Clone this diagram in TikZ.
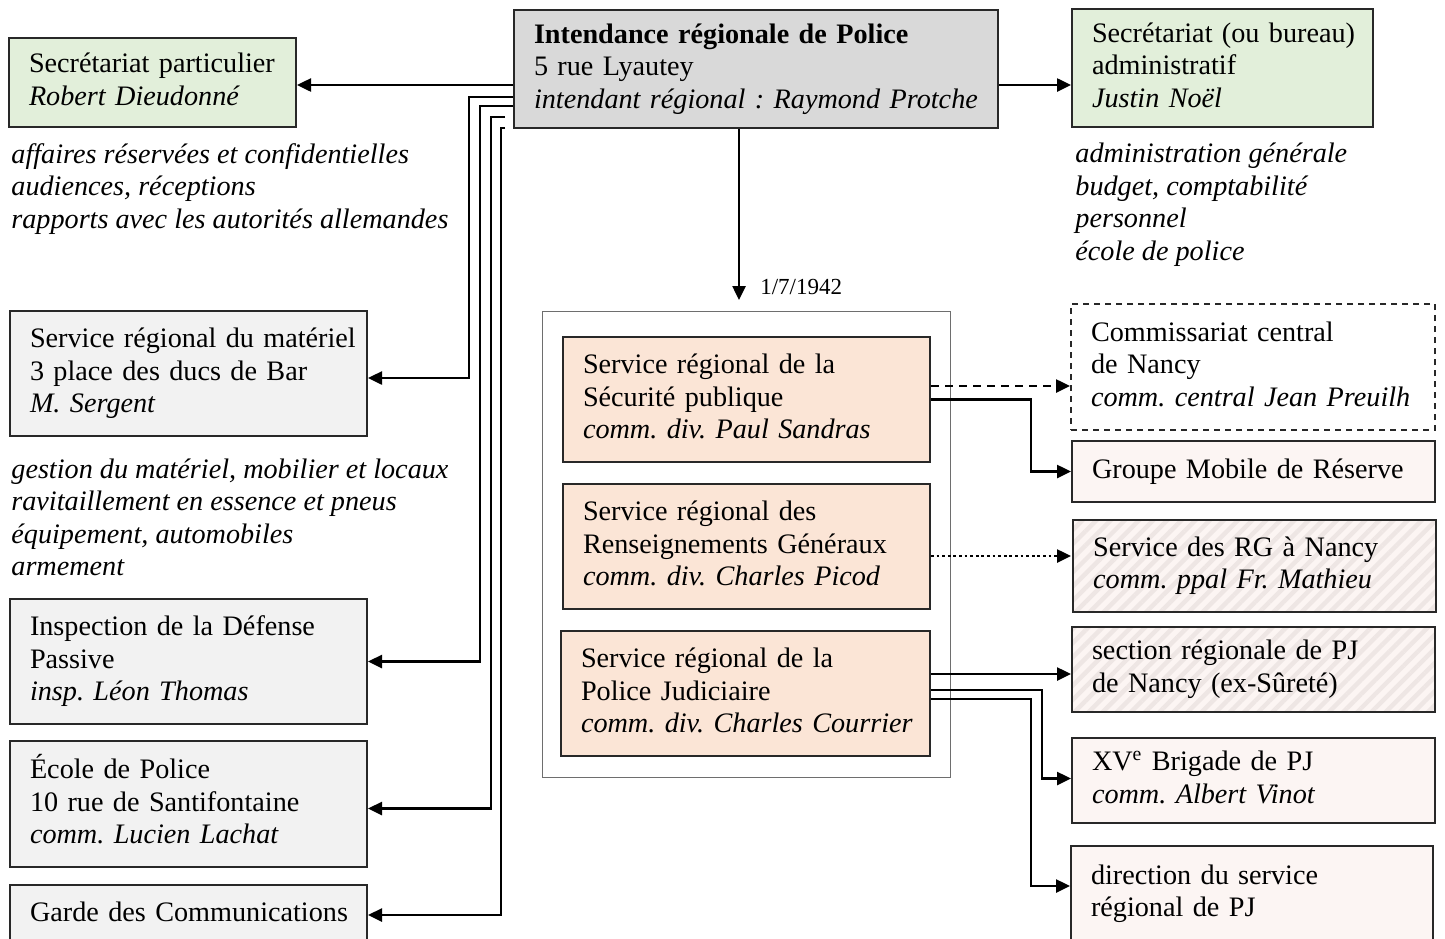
\documentclass[tikz,border=0pt]{standalone}
\usepackage{fontspec}
\setmainfont{Liberation Serif}
\usepackage{xcolor}
\usepackage{tikz}
\usetikzlibrary{arrows.meta, positioning, patterns.meta}
\definecolor{IntGray}{RGB}{217, 217, 217}
\definecolor{SecGreen}{RGB}{226, 239, 218}
\definecolor{MatGray}{RGB}{242, 242, 242}
\definecolor{SrPeach}{RGB}{251, 229, 214}
\definecolor{SubPink}{RGB}{252, 245, 243}
\definecolor{HatchLine}{RGB}{238, 230, 228}
\definecolor{BoxEdge}{RGB}{40, 40, 40}
\definecolor{FrameGray}{RGB}{110, 110, 110}
\newcommand\boxlines[1]{\begin{tabular}{@{}l@{}}#1\end{tabular}}
\tikzset{
  box/.style={rectangle, draw=BoxEdge, line width=1pt, inner xsep=10pt,
    inner ysep=0pt, align=left, anchor=north west,
    font=\fontsize{14.1}{16.25}\selectfont\frenchspacing},
  intbox/.style={box, fill=IntGray, text width=222pt, minimum height=59pt},
  secbox/.style={box, fill=SecGreen},
  matbox/.style={box, fill=MatGray, text width=158.5pt},
  srbox/.style={box, fill=SrPeach, text width=163.5pt, minimum height=62.5pt},
  subbox/.style={box, fill=SubPink, text width=161.5pt},
  hatchbox/.style={box, preaction={fill=SubPink},
    pattern={Lines[angle=45, distance=5pt, line width=2.2pt]},
    pattern color=HatchLine, text width=161.5pt},
  dashbox/.style={box, fill=white, dashed, dash pattern=on 3pt off 2.5pt,
    text width=162pt},
  frame/.style={rectangle, draw=FrameGray, line width=0.6pt, anchor=north west,
    minimum width=204pt, minimum height=233pt},
  note/.style={align=left, inner sep=0pt, anchor=west,
    font=\fontsize{14.1}{16.25}\selectfont\itshape\frenchspacing},
  arr/.style={-{Triangle[length=7pt, width=6.5pt]}, line width=1.25pt},
  darr/.style={arr, dash pattern=on 4pt off 3pt},
  dotarr/.style={arr, dash pattern=on 1.4pt off 1.4pt},
}

\begin{document}
\begin{tikzpicture}[x=0.5pt, y=-0.5pt]
  \path[use as bounding box] (0,0) rectangle (1445,938);
  \clip (0,0) rectangle (1445,938);

  % top row
  \node[intbox] (intend) at (513,9)
    {\boxlines{\textbf{Intendance régionale de Police}\\5 rue Lyautey\\
     \textit{intendant régional : Raymond Protche}}};
  \node[secbox, text width=123.5pt, minimum height=44.5pt] (secpart) at (8,37)
    {\boxlines{Secrétariat particulier\\\textit{Robert Dieudonné}}};
  \node[secbox, text width=130.5pt, minimum height=59pt] (secadm) at (1071,8)
    {\boxlines{Secrétariat (ou bureau)\\administratif\\\textit{Justin Noël}}};

  \node[note] (notepart) at (11,189)
    {affaires réservées et confidentielles\\audiences, réceptions\\
     rapports avec les autorités allemandes};
  \node[note] (noteadm) at (1075,204.5)
    {administration générale\\budget, comptabilité\\personnel\\école de police};

  % left column
  \node[matbox, minimum height=62.5pt] (mat) at (9,310)
    {\boxlines{Service régional du matériel\\3 place des ducs de Bar\\\textit{M. Sergent}}};
  \node[note] (notemat) at (11,517.5)
    {gestion du matériel, mobilier et locaux\\ravitaillement en essence et pneus\\
     équipement, automobiles\\armement};
  \node[matbox, minimum height=62.5pt] (insp) at (9,598)
    {\boxlines{Inspection de la Défense\\Passive\\\textit{insp. Léon Thomas}}};
  \node[matbox, minimum height=63pt] (ecole) at (9,740)
    {\boxlines{École de Police\\10 rue de Santifontaine\\\textit{comm. Lucien Lachat}}};
  \node[matbox, minimum height=30pt] (garde) at (9,884)
    {\boxlines{Garde des Communications}};

  % regional services
  \node[frame] (sr) at (542,311) {};
  \node[srbox] (sr1) at (562,336)
    {\boxlines{Service régional de la\\Sécurité publique\\\textit{comm. div. Paul Sandras}}};
  \node[srbox] (sr2) at (562,483)
    {\boxlines{Service régional des\\Renseignements Généraux\\\textit{comm. div. Charles Picod}}};
  \node[srbox, text width=164.5pt] (sr3) at (560,630)
    {\boxlines{Service régional de la\\Police Judiciaire\\\textit{comm. div. Charles Courrier}}};

  % right column
  \node[dashbox, minimum height=63pt] (comm) at (1070,303)
    {\boxlines{Commissariat central\\de Nancy\\\textit{comm. central Jean Preuilh}}};
  \node[subbox, minimum height=30.5pt] (gmr) at (1071,440)
    {\boxlines{Groupe Mobile de Réserve}};
  \node[hatchbox, minimum height=46pt] (rgn) at (1071,518)
    {\boxlines{Service des RG à Nancy\\\textit{comm. ppal Fr. Mathieu}}};
  \node[hatchbox, minimum height=42.5pt] (spj) at (1071,626)
    {\boxlines{section régionale de PJ\\de Nancy (ex-Sûreté)}};
  \node[subbox, minimum height=42.5pt] (xve) at (1071,737)
    {\boxlines{XV\textsuperscript{e} Brigade de PJ\\\textit{comm. Albert Vinot}}};
  \node[subbox, text width=161pt, minimum height=48pt] (dir) at (1070,845)
    {\boxlines{direction du service\\régional de PJ}};

  % connectors
  \draw[arr] ([yshift=-8pt]intend.west) -- ([yshift=-8pt]intend.west -| secpart.east);
  \draw[arr] ([yshift=-8pt]intend.east) -- ([yshift=-8pt]intend.east -| secadm.west);
  \draw[arr] ([xshift=-8.5pt]intend.south) -- ([xshift=-8.5pt]intend.south |- sr.north)
    [shorten >=5.5pt]
    node[pos=0.87, right=10pt, inner sep=0pt, font=\fontsize{11.5}{13}\selectfont] {1/7/1942};

  \draw[arr] ([yshift=16pt]intend.south west) -- ++(-22pt,0) |- ([yshift=-2.25pt]mat.east);
  \draw[arr] ([yshift=11.5pt]intend.south west) -- ++(-16.5pt,0) |- (insp.east);
  \draw[arr] ([shift={(-4pt,6pt)}]intend.south west) -- ++(-7pt,0) |- ([yshift=-2.25pt]ecole.east);
  \draw[arr] ([shift={(-4pt,0.5pt)}]intend.south west) -- ++(-2pt,0) |- (garde.east);

  \draw[darr] ([yshift=6.75pt]sr1.east) -- ([yshift=6.75pt]sr1.east -| comm.west);
  \draw[arr] (sr1.east) -- ++(50pt,0) |- (gmr.west);
  \draw[dotarr] ([yshift=-4.75pt]sr2.east) -- ([yshift=-4.75pt]sr2.east -| rgn.west);
  \draw[arr] ([yshift=9.75pt]sr3.east) -- ([yshift=9.75pt]sr3.east -| spj.west);
  \draw[arr] ([yshift=1.75pt]sr3.east) -- ++(55.5pt,0) |- ([yshift=1pt]xve.west);
  \draw[arr] ([yshift=-2.75pt]sr3.east) -- ++(50pt,0) |- ([yshift=4pt]dir.west);
\end{tikzpicture}
\end{document}
